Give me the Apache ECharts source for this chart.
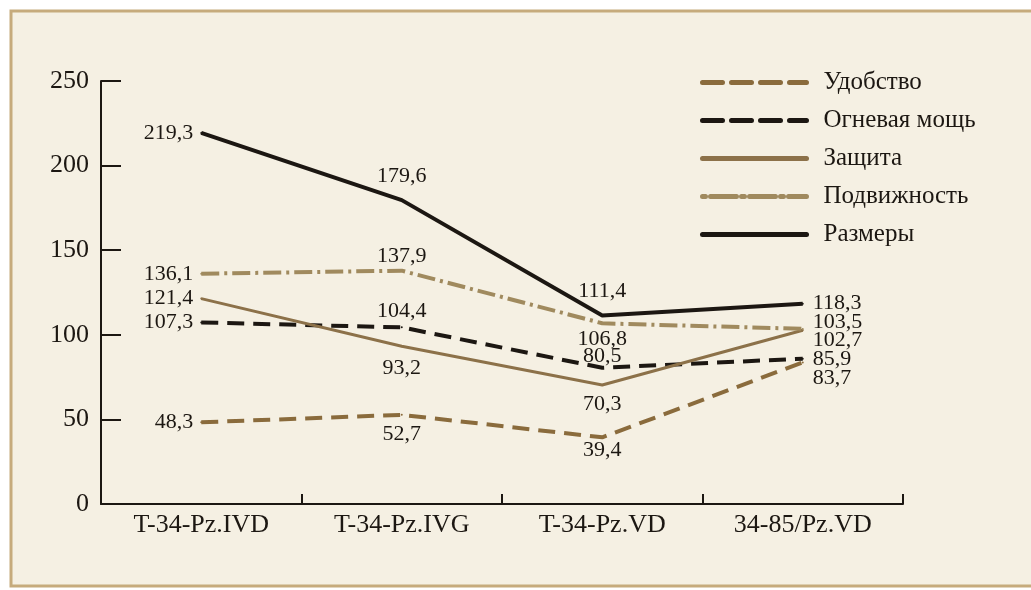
<!DOCTYPE html>
<html>
<head>
<meta charset="utf-8">
<script src="https://cdn.jsdelivr.net/npm/echarts@6/dist/echarts.min.js"></script>
<style>
html,body{margin:0;padding:0;background:#fff;}
#c{width:1031px;height:590px;}
</style>
</head>
<body>
<div id="c"></div>
<script>
// ---- data ----
var categories = ['T-34-Pz.IVD', 'T-34-Pz.IVG', 'T-34-Pz.VD', '34-85/Pz.VD'];
var seriesNames = ['Удобство', 'Огневая мощь', 'Защита', 'Подвижность', 'Размеры'];
var udobstvo   = [48.3, 52.7, 39.4, 83.7];
var ognevaya   = [107.3, 104.4, 80.5, 85.9];
var zashchita  = [121.4, 93.2, 70.3, 102.7];
var podvizh    = [136.1, 137.9, 106.8, 103.5];
var razmery    = [219.3, 179.6, 111.4, 118.3];
var yTicks = [0, 50, 100, 150, 200, 250];

// ---- label layout (position, distance, vertical offset) per series per point ----
var labelLayout = {
  'Удобство':     [['left',7,0],['bottom',7,0],['bottom',1,0],['right',9,16]],
  'Огневая мощь': [['left',7,0],['top',4,0],['top',0,0],['right',9,1]],
  'Защита':       [['left',7,0],['bottom',10,0],['bottom',7,0],['right',9,10]],
  'Подвижность':  [['left',7,0],['top',2,0],['bottom',4,0],['right',9,-7]],
  'Размеры':      [['left',7,0],['top',12,0],['top',12,0],['right',9,-1]]
};

var FONT = "'Liberation Serif', 'DejaVu Serif', serif";
var TXT = '#1c1712';

var styles = {
  'Удобство':     {color:'#8a6b3c', width:4, type:[17,9]},
  'Огневая мощь': {color:'#1c1712', width:4, type:[17,9]},
  'Защита':       {color:'#8c7149', width:3, type:'solid'},
  'Подвижность':  {color:'#a08a5e', width:4, type:[18,5,3,5]},
  'Размеры':      {color:'#1c1712', width:4, type:'solid'}
};
var legendStyles = {
  'Удобство':     {width:5, type:[20,9]},
  'Огневая мощь': {width:5, type:[20,9]},
  'Защита':       {width:5, type:'solid'},
  'Подвижность':  {width:5, type:[3,5,26,5]},
  'Размеры':      {width:5, type:'solid'}
};

var values = {
  'Удобство': udobstvo, 'Огневая мощь': ognevaya, 'Защита': zashchita,
  'Подвижность': podvizh, 'Размеры': razmery
};

function fmt(v){ return String(v.toFixed(1)).replace('.', ','); }

var series = seriesNames.map(function(name){
  var st = styles[name];
  return {
    name: name,
    type: 'line',
    symbol: 'circle',
    symbolSize: 2,
    showSymbol: true,
    silent: true,
    animation: false,
    lineStyle: {color: st.color, width: st.width, type: st.type, cap: 'butt'},
    itemStyle: {color: st.color},
    emphasis: {disabled: true},
    data: values[name].map(function(v, i){
      var L = labelLayout[name][i];
      return {
        value: v,
        label: {
          show: true, position: L[0], distance: L[1], offset: [0, L[2]],
          formatter: function(p){ return fmt(p.value); },
          color: TXT, fontFamily: FONT, fontSize: 22
        }
      };
    })
  };
});

var chart = echarts.init(document.getElementById('c'));
chart.setOption({
  backgroundColor: '#ffffff',
  animation: false,
  graphic: [{
    type: 'rect', z: -10, silent: true,
    shape: {x: 11, y: 11, width: 1040, height: 575},
    style: {fill: '#f5f0e3', stroke: '#c6ab7c', lineWidth: 3}
  }],
  grid: {left: 101, right: 128, top: 81, bottom: 86, containLabel: false},
  legend: {
    orient: 'vertical', left: 695, top: 65,
    itemWidth: 104, itemHeight: 14, itemGap: 13,
    itemStyle: {opacity: 0},
    textStyle: {color: TXT, fontFamily: FONT, fontSize: 25, padding: [0,0,0,12]},
    selectedMode: false,
    data: seriesNames.map(function(n){
      return {name: n, lineStyle: {width: legendStyles[n].width, type: legendStyles[n].type, cap: 'round'}};
    })
  },
  xAxis: {
    type: 'category', data: categories, boundaryGap: true,
    axisLine: {lineStyle: {color: '#1c1712', width: 2}},
    axisTick: {show: true, inside: true, length: 10, lineStyle: {color: '#1c1712', width: 2}},
    axisLabel: {color: TXT, fontFamily: FONT, fontSize: 26, margin: 8},
    splitLine: {show: false}
  },
  yAxis: {
    type: 'value', min: yTicks[0], max: yTicks[yTicks.length-1], interval: 50,
    axisLine: {show: true, lineStyle: {color: '#1c1712', width: 2}},
    axisTick: {show: true, inside: true, length: 20, lineStyle: {color: '#1c1712', width: 2}},
    axisLabel: {color: TXT, fontFamily: FONT, fontSize: 26, margin: 12},
    splitLine: {show: false}
  },
  series: series
});
</script>
</body>
</html>
